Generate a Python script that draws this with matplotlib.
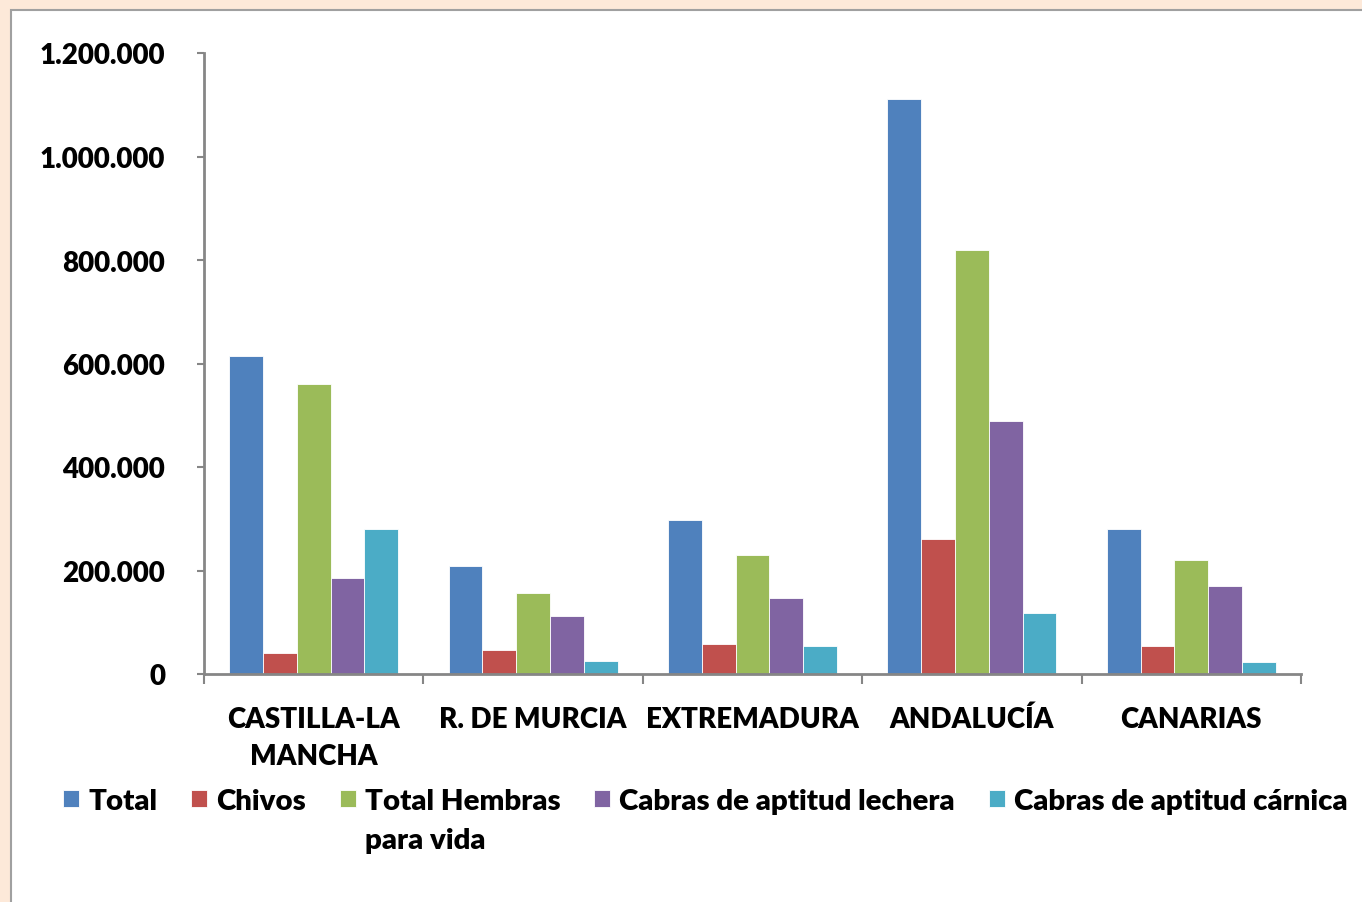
import matplotlib.pyplot as plt
import numpy as np
from matplotlib.patches import Rectangle

regiones = ['CASTILLA-LA\nMANCHA', 'R. DE MURCIA', 'EXTREMADURA', 'ANDALUCÍA', 'CANARIAS']
series = ['Total', 'Chivos', 'Total Hembras', 'Cabras de aptitud lechera', 'Cabras de aptitud cárnica']
total = [614000, 208000, 298000, 1111000, 280000]
chivos = [41000, 46000, 58000, 261000, 54000]
hembras = [560000, 156000, 230000, 819000, 220000]
lechera = [185000, 112000, 147000, 489000, 170000]
carnica = [280000, 25000, 54000, 118000, 23000]
colores = ['#4F81BD', '#C0504D', '#9BBB59', '#8064A2', '#4BACC6']
yticks = [0, 200000, 400000, 600000, 800000, 1000000, 1200000]

peso = 'heavy'
plt.rcParams['font.family'] = ['Lato', 'DejaVu Sans']
plt.rcParams['font.weight'] = peso

fig = plt.figure(figsize=(13.62, 9.03), dpi=100)
fig.patch.set_facecolor('#FDE9D9')
# marco blanco
fig.patches.append(Rectangle((11 / 1362, -0.1), 1.2, (903 - 11) / 903 + 0.1,
                             transform=fig.transFigure, facecolor='white',
                             edgecolor='#A0A0A0', linewidth=1.5, zorder=-5))

ax = fig.add_axes([204 / 1362, 1 - 675 / 903, (1301 - 204) / 1362, (675 - 54) / 903])
ax.set_facecolor('none')
ax.set_zorder(2)

x = np.arange(len(regiones))
w = 0.154
datos = [total, chivos, hembras, lechera, carnica]
barras = []
for i, (vals, c) in enumerate(zip(datos, colores)):
    b = ax.bar(x + (i - 2) * w, vals, w, color=c, edgecolor='white', linewidth=0.6,
               label=series[i])
    barras.append(b)

ax.set_xlim(-0.5, len(regiones) - 0.5)
ax.set_ylim(0, 1200000)
ax.set_yticks(yticks)
ax.set_yticklabels([f'{v:,}'.replace(',', '.') for v in yticks], fontsize=20, fontweight=peso)
ax.set_xticks(np.arange(-0.5, len(regiones)))
ax.set_xticklabels([])
ax.set_xticks(x, minor=True)
ax.set_xticklabels(regiones, minor=True, fontsize=20, fontweight=peso, linespacing=1.55)
ax.tick_params(axis='x', which='minor', length=0, pad=23)
ax.tick_params(axis='x', which='major', length=7, width=1.5, color='#868686', direction='out')
ax.tick_params(axis='y', length=5, width=1.5, color='#868686', pad=23)
for s in ['top', 'right']:
    ax.spines[s].set_visible(False)
for s in ['left', 'bottom']:
    ax.spines[s].set_color('#868686')
    ax.spines[s].set_linewidth(2)

leg = fig.legend(handles=barras, labels=series, loc='upper left', ncol=5,
                 bbox_to_anchor=(63 / 1362, 1 - 789 / 903), frameon=False,
                 fontsize=21.2, handlelength=0.55, handleheight=0.55, handletextpad=0.3,
                 columnspacing=1.15, borderaxespad=0, borderpad=0)
for t in leg.get_texts():
    t.set_fontweight(peso)

fig.canvas.draw()
bb = leg.get_texts()[2].get_window_extent()
fig.text(bb.x0 / 1362, (bb.y0 - 13) / 903, 'para vida', fontsize=21.2, fontweight=peso,
         ha='left', va='top')

fig.savefig('out.png', dpi=100, facecolor=fig.get_facecolor())
